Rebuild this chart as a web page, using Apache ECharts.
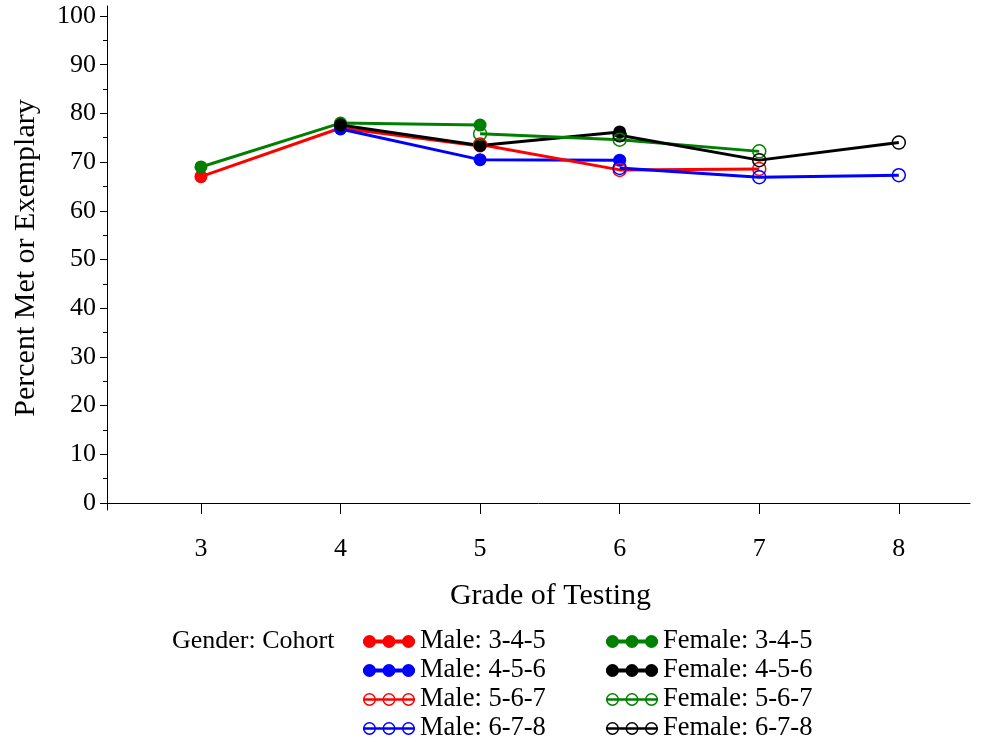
<!DOCTYPE html>
<html>
<head>
<meta charset="utf-8">
<script src="https://cdn.jsdelivr.net/npm/echarts@6/dist/echarts.min.js"></script>
<style>
  html, body { margin: 0; padding: 0; background: #fff; }
  #chart { width: 984px; height: 742px; }
</style>
</head>
<body>
<div id="chart"></div>
<script>
// grades on the x axis
var grades = [3, 4, 5, 6, 7, 8];
var yTicks = [0, 10, 20, 30, 40, 50, 60, 70, 80, 90, 100];
var yMinorTicks = [5, 15, 25, 35, 45, 55, 65, 75, 85, 95];

// percent met or exemplary, one value per grade (null = not tested)
var male345   = [67.0, 77.0, 73.3, null, null, null];
var male456   = [null, 76.8, 70.5, 70.4, null, null];
var male567   = [null, null, 73.6, 68.4, 68.6, null];
var male678   = [null, null, null, 68.8, 66.9, 67.3];
var female345 = [69.0, 78.0, 77.6, null, null, null];
var female456 = [null, 77.6, 73.4, 76.2, null, null];
var female567 = [null, null, 75.8, 74.6, 72.2, null];
var female678 = [null, null, null, 75.5, 70.4, 74.0];

var font = '"Liberation Serif", "Times New Roman", serif';

// legend icons: a line with three dots (filled or hollow), 52 x 13 box
var dots = [6.5, 26, 45.5];
function ring(c, r) {
    return ' M' + (c - r) + ' 6.5 A' + r + ' ' + r + ' 0 1 1 ' + (c + r) + ' 6.5 A' + r + ' ' + r + ' 0 1 1 ' + (c - r) + ' 6.5 Z';
}
function ringRev(c, r) {
    return ' M' + (c - r) + ' 6.5 A' + r + ' ' + r + ' 0 1 0 ' + (c + r) + ' 6.5 A' + r + ' ' + r + ' 0 1 0 ' + (c - r) + ' 6.5 Z';
}
var iconFilled = 'path://M0 4.5 H52 V8.5 H0 Z' + dots.map(function (c) {
    return ring(c, 6.5);
}).join('');
var iconHollow = 'path://M0 5.25 H52 V7.75 H0 Z' + dots.map(function (c) {
    return ring(c, 6.5) + ringRev(c, 5);
}).join('');

function pairs(vals) {
    var out = [];
    for (var i = 0; i < grades.length; i++) {
        if (vals[i] !== null) out.push([grades[i], vals[i]]);
    }
    return out;
}

function makeSeries(name, vals, color, hollow) {
    return {
        name: name,
        type: 'line',
        data: pairs(vals),
        symbol: 'circle',
        symbolSize: 13,
        lineStyle: { color: color, width: 3 },
        itemStyle: hollow
            ? { color: 'rgba(0,0,0,0)', borderColor: color, borderWidth: 1.5 }
            : { color: color, borderWidth: 0 },
        emphasis: { disabled: true },
        animation: false
    };
}

var seriesDefs = [
    ['Male: 3-4-5',   male345,   '#ff0000', false],
    ['Male: 4-5-6',   male456,   '#0000ff', false],
    ['Male: 5-6-7',   male567,   '#ff0000', true],
    ['Male: 6-7-8',   male678,   '#0000ff', true],
    ['Female: 3-4-5', female345, '#008000', false],
    ['Female: 4-5-6', female456, '#000000', false],
    ['Female: 5-6-7', female567, '#008000', true],
    ['Female: 6-7-8', female678, '#000000', true]
];

function legendData(defs) {
    return defs.map(function (d) {
        return {
            name: d[0],
            icon: d[3] ? iconHollow : iconFilled,
            itemStyle: { color: d[2], borderWidth: 0 }
        };
    });
}

function makeLegend(defs, left) {
    return {
        orient: 'vertical',
        left: left,
        top: 627,
        height: 120,
        padding: 0,
        itemWidth: 52,
        itemHeight: 13,
        itemGap: 0,
        selectedMode: false,
        textStyle: { fontFamily: font, fontSize: 26.5, color: '#000', lineHeight: 29 },
        data: legendData(defs)
    };
}

var chart = echarts.init(document.getElementById('chart'));
var option = {
    backgroundColor: '#fff',
    animation: false,
    grid: { left: 107, right: 14, top: 6, bottom: 232 },
    xAxis: {
        type: 'value',
        min: 2.327,
        max: 8.51,
        name: 'Grade of Testing',
        nameLocation: 'middle',
        nameGap: 71,
        nameTextStyle: { fontFamily: font, fontSize: 30, color: '#000', padding: [0, 0, 0, 24] },
        axisLine: { lineStyle: { color: '#000', width: 1 } },
        axisTick: { show: true, length: 11, inside: false, customValues: grades, lineStyle: { color: '#000' } },
        axisLabel: { customValues: grades, margin: 26, fontFamily: font, fontSize: 26, color: '#000' },
        splitLine: { show: false }
    },
    yAxis: [{
        type: 'value',
        position: 'left',
        min: -1.44,
        max: 102.05,
        name: 'Percent Met or Exemplary',
        nameLocation: 'middle',
        nameGap: 66,
        nameTextStyle: { fontFamily: font, fontSize: 30, color: '#000' },
        axisLine: { show: true, lineStyle: { color: '#000', width: 1 } },
        axisTick: { show: true, length: 7, customValues: yTicks, lineStyle: { color: '#000' } },
        axisLabel: { customValues: yTicks, margin: 11, fontFamily: font, fontSize: 26, color: '#000' },
        splitLine: { show: false }
    }, {
        type: 'value',
        position: 'left',
        offset: 0,
        min: -1.44,
        max: 102.05,
        axisLine: { show: false },
        axisTick: { show: true, length: 4, customValues: yMinorTicks, lineStyle: { color: '#000' } },
        axisLabel: { show: false },
        splitLine: { show: false }
    }],
    legend: [
        makeLegend(seriesDefs.slice(0, 4), 363),
        makeLegend(seriesDefs.slice(4, 8), 606)
    ],
    graphic: [{
        type: 'text',
        left: 172,
        top: 628,
        style: { text: 'Gender: Cohort', fontFamily: font, fontSize: 26, fill: '#000' }
    }],
    series: seriesDefs.map(function (d) {
        return makeSeries(d[0], d[1], d[2], d[3]);
    })
};
chart.setOption(option);
</script>
</body>
</html>
